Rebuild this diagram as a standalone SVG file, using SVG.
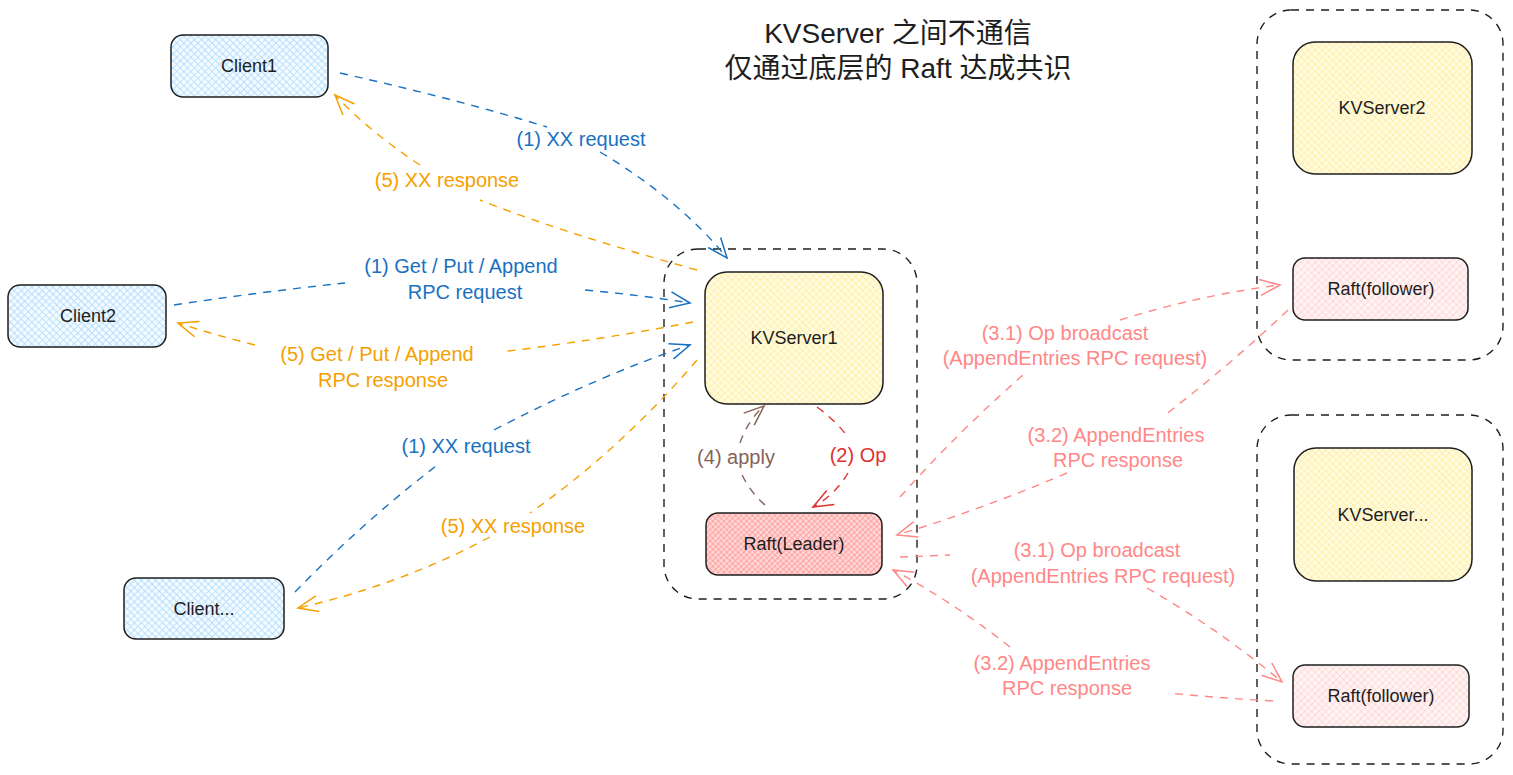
<svg xmlns="http://www.w3.org/2000/svg" width="1513" height="775" viewBox="0 0 1513 775">
<style>
.box{stroke:#1e1e1e;stroke-width:1.5}
.grp{fill:none;stroke:#1e1e1e;stroke-width:1.4;stroke-dasharray:8 7}
.nt{font-family:"Liberation Sans",Arial,sans-serif;font-size:18px;fill:#1e1e1e;text-anchor:middle;dominant-baseline:central}
.lb{font-family:"Liberation Sans",Arial,sans-serif;font-size:20px;text-anchor:middle;dominant-baseline:central}
.ttl{font-family:"Liberation Sans","Noto Sans CJK SC",sans-serif;font-size:28px;fill:#1e1e1e;text-anchor:middle}
.c{fill:none;stroke-width:1.4;stroke-dasharray:8 7}
.blue{stroke:#1971c2}.bluet{fill:#1971c2}
.org{stroke:#f5a000}.orgt{fill:#f5a000}
.red{stroke:#e03131}.redt{fill:#e03131}
.brn{stroke:#846358}.brnt{fill:#846358}
.sal{stroke:#ff8787}.salt{fill:#ff8787}
</style>
<defs>
<pattern id="pBlue" patternUnits="userSpaceOnUse" width="5" height="5" patternTransform="rotate(45)"><rect width="5" height="5" fill="#f4fbff"/><path d="M0,0H5M0,0V5" stroke="#a5d8ff" stroke-width="1.3"/></pattern>
<pattern id="pYel" patternUnits="userSpaceOnUse" width="5" height="5" patternTransform="rotate(45)"><rect width="5" height="5" fill="#fffbe0"/><path d="M0,0H5M0,0V5" stroke="#ffec99" stroke-width="1.3"/></pattern>
<pattern id="pRed" patternUnits="userSpaceOnUse" width="4" height="4" patternTransform="rotate(45)"><rect width="4" height="4" fill="#ffd6d6"/><path d="M0,0H4M0,0V4" stroke="#ff8787" stroke-width="1.2"/></pattern>
<pattern id="pPink" patternUnits="userSpaceOnUse" width="5" height="5" patternTransform="rotate(45)"><rect width="5" height="5" fill="#fff4f4"/><path d="M0,0H5M0,0V5" stroke="#ffc9c9" stroke-width="1.2"/></pattern>
<marker id="mBlue" markerUnits="userSpaceOnUse" viewBox="0 0 24 20" markerWidth="24" markerHeight="20" refX="22" refY="10" orient="auto"><path d="M2,2 L22,10 L2,18" fill="none" stroke="#1971c2" stroke-width="1.5"/></marker>
<marker id="mOrg" markerUnits="userSpaceOnUse" viewBox="0 0 24 20" markerWidth="24" markerHeight="20" refX="22" refY="10" orient="auto"><path d="M2,2 L22,10 L2,18" fill="none" stroke="#f5a000" stroke-width="1.5"/></marker>
<marker id="mRed" markerUnits="userSpaceOnUse" viewBox="0 0 24 20" markerWidth="24" markerHeight="20" refX="22" refY="10" orient="auto"><path d="M2,2 L22,10 L2,18" fill="none" stroke="#e03131" stroke-width="1.5"/></marker>
<marker id="mBrn" markerUnits="userSpaceOnUse" viewBox="0 0 24 20" markerWidth="24" markerHeight="20" refX="22" refY="10" orient="auto"><path d="M2,2 L22,10 L2,18" fill="none" stroke="#846358" stroke-width="1.5"/></marker>
<marker id="mSal" markerUnits="userSpaceOnUse" viewBox="0 0 24 20" markerWidth="24" markerHeight="20" refX="22" refY="10" orient="auto"><path d="M2,2 L22,10 L2,18" fill="none" stroke="#ff8787" stroke-width="1.5"/></marker>
</defs>
<rect width="1513" height="775" fill="#ffffff"/>

<g id="title">
<text class="ttl" x="898" y="43">KVServer 之间不通信</text>
<text class="ttl" x="898" y="78">仅通过底层的 Raft 达成共识</text>
</g>

<g id="group-kv1"><rect class="grp" x="664" y="249" width="253" height="350" rx="34"/></g>
<g id="group-kv2"><rect class="grp" x="1257" y="10" width="246" height="350" rx="34"/></g>
<g id="group-kvn"><rect class="grp" x="1257" y="415" width="246" height="349" rx="34"/></g>

<g id="client1"><rect class="box" x="171" y="35" width="157" height="62" rx="12" fill="url(#pBlue)"/><text class="nt" x="249" y="66">Client1</text></g>
<g id="client2"><rect class="box" x="8" y="285" width="158" height="62" rx="12" fill="url(#pBlue)"/><text class="nt" x="88" y="316">Client2</text></g>
<g id="client3"><rect class="box" x="124" y="578" width="160" height="61" rx="12" fill="url(#pBlue)"/><text class="nt" x="204" y="609">Client...</text></g>
<g id="kvserver1"><rect class="box" x="705" y="272" width="178" height="132" rx="22" fill="url(#pYel)"/><text class="nt" x="794" y="338">KVServer1</text></g>
<g id="raft-leader"><rect class="box" x="706" y="513" width="176" height="62" rx="12" fill="url(#pRed)"/><text class="nt" x="794" y="544">Raft(Leader)</text></g>
<g id="kvserver2"><rect class="box" x="1293" y="42" width="179" height="132" rx="22" fill="url(#pYel)"/><text class="nt" x="1382" y="108">KVServer2</text></g>
<g id="raft-follower1"><rect class="box" x="1293" y="258" width="175" height="62" rx="12" fill="url(#pPink)"/><text class="nt" x="1381" y="289">Raft(follower)</text></g>
<g id="kvserver3"><rect class="box" x="1294" y="448" width="178" height="133" rx="22" fill="url(#pYel)"/><text class="nt" x="1383" y="515">KVServer...</text></g>
<g id="raft-follower2"><rect class="box" x="1293" y="665" width="176" height="62" rx="12" fill="url(#pPink)"/><text class="nt" x="1381" y="696">Raft(follower)</text></g>

<g id="connectors">
<path class="c blue" d="M340,73 Q460,100 547,127"/>
<path class="c blue" d="M600,152 Q680,200 727,258" marker-end="url(#mBlue)"/>
<text class="lb bluet" x="581" y="139">(1) XX request</text>

<path class="c org" d="M697,270 Q560,232 480,200"/>
<path class="c org" d="M420,165 Q370,132 335,95" marker-end="url(#mOrg)"/>
<text class="lb orgt" x="447" y="180">(5) XX response</text>

<path class="c blue" d="M174,305 Q260,292 345,283"/>
<path class="c blue" d="M585,290 Q640,295 690,303" marker-end="url(#mBlue)"/>
<text class="lb bluet" x="461" y="266">(1) Get / Put / Append</text>
<text class="lb bluet" x="465" y="292">RPC request</text>

<path class="c org" d="M693,322 Q600,340 500,352"/>
<path class="c org" d="M255,345 Q215,335 178,323" marker-end="url(#mOrg)"/>
<text class="lb orgt" x="377" y="354">(5) Get / Put / Append</text>
<text class="lb orgt" x="383" y="380">RPC response</text>

<path class="c blue" d="M295,592 Q365,520 440,463"/>
<path class="c blue" d="M494,430 Q600,375 690,345" marker-end="url(#mBlue)"/>
<text class="lb bluet" x="466" y="446">(1) XX request</text>

<path class="c org" d="M697,360 Q620,450 530,513"/>
<path class="c org" d="M490,537 Q400,585 298,608" marker-end="url(#mOrg)"/>
<text class="lb orgt" x="513" y="526">(5) XX response</text>

<path class="c red" d="M817,407 Q835,420 848,437"/>
<path class="c red" d="M848,473 Q835,495 813,507" marker-end="url(#mRed)"/>
<text class="lb redt" x="858" y="455">(2) Op</text>

<path class="c brn" d="M765,505 Q748,490 740,470"/>
<path class="c brn" d="M740,443 Q748,420 764,406" marker-end="url(#mBrn)"/>
<text class="lb brnt" x="736" y="457">(4) apply</text>

<path class="c sal" d="M900,497 Q960,430 1023,375"/>
<path class="c sal" d="M1120,320 Q1200,295 1280,285" marker-end="url(#mSal)"/>
<text class="lb salt" x="1065" y="333">(3.1) Op broadcast</text>
<text class="lb salt" x="1075" y="358">(AppendEntries RPC request)</text>

<path class="c sal" d="M1288,310 Q1230,365 1165,415"/>
<path class="c sal" d="M1067,473 Q980,510 897,535" marker-end="url(#mSal)"/>
<text class="lb salt" x="1116" y="435">(3.2) AppendEntries</text>
<text class="lb salt" x="1118" y="460">RPC response</text>

<path class="c sal" d="M900,557 L950,555"/>
<path class="c sal" d="M1147,588 Q1220,630 1282,682" marker-end="url(#mSal)"/>
<text class="lb salt" x="1097" y="550">(3.1) Op broadcast</text>
<text class="lb salt" x="1103" y="576">(AppendEntries RPC request)</text>

<path class="c sal" d="M1273,701 Q1220,698 1168,693"/>
<path class="c sal" d="M1010,647 Q950,600 893,570" marker-end="url(#mSal)"/>
<text class="lb salt" x="1062" y="663">(3.2) AppendEntries</text>
<text class="lb salt" x="1067" y="688">RPC response</text>
</g>
</svg>
